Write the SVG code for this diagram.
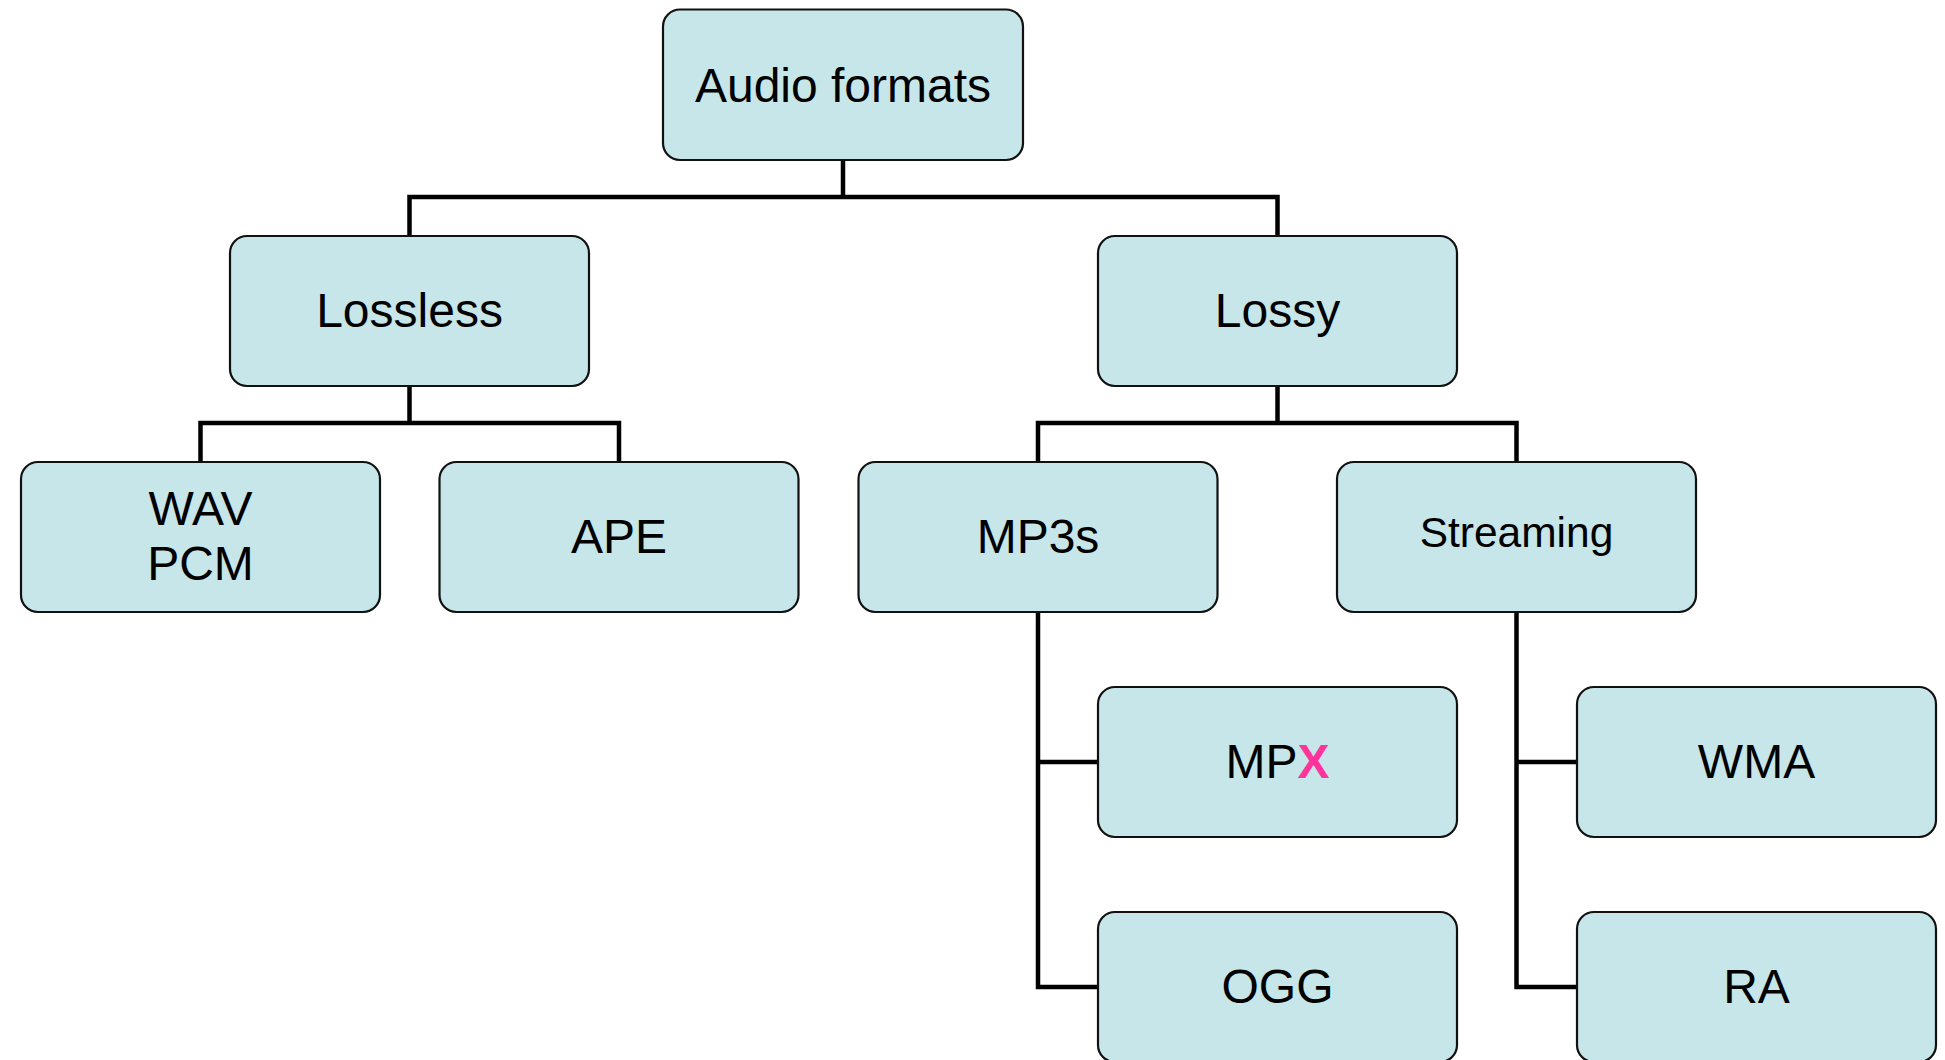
<svg xmlns="http://www.w3.org/2000/svg" width="1945" height="1060" viewBox="0 0 1945 1060">
<style>
.box{fill:#c6e6e9;stroke:#111;stroke-width:2.2}
.t{font-family:"Liberation Sans",Arial,sans-serif;font-size:48px;fill:#000;text-anchor:middle}
.c{fill:none;stroke:#000;stroke-width:4.5;stroke-linejoin:miter;stroke-linecap:square}
</style>
<rect width="1945" height="1060" fill="#fff"/>
<g id="connectors">
<path class="c" d="M843 160 V197 M409.5 197 H1277.5 M409.5 197 V236 M1277.5 197 V236"/>
<path class="c" d="M409.5 386 V423 M200.5 423 H619 M200.5 423 V462 M619 423 V462"/>
<path class="c" d="M1277.5 386 V423 M1038 423 H1516.5 M1038 423 V462 M1516.5 423 V462"/>
<path class="c" d="M1038 612 V987 H1098 M1038 762 H1098"/>
<path class="c" d="M1516.5 612 V987 H1577 M1516.5 762 H1577"/>
</g>
<g id="audio-formats"><rect class="box" x="663" y="9.5" width="360" height="150.5" rx="17"/><text class="t" x="843" y="102">Audio formats</text></g>
<g id="lossless"><rect class="box" x="230" y="236" width="359" height="150" rx="17"/><text class="t" x="409.5" y="327">Lossless</text></g>
<g id="lossy"><rect class="box" x="1098" y="236" width="359" height="150" rx="17"/><text class="t" x="1277.5" y="327">Lossy</text></g>
<g id="wav-pcm"><rect class="box" x="21" y="462" width="359" height="150" rx="17"/><text class="t" x="200.5" y="525">WAV</text><text class="t" x="200.5" y="580">PCM</text></g>
<g id="ape"><rect class="box" x="439.5" y="462" width="359" height="150" rx="17"/><text class="t" x="619" y="553">APE</text></g>
<g id="mp3s"><rect class="box" x="858.5" y="462" width="359" height="150" rx="17"/><text class="t" x="1038" y="553">MP3s</text></g>
<g id="streaming"><rect class="box" x="1337" y="462" width="359" height="150" rx="17"/><text class="t" x="1516.5" y="547" style="font-size:42.5px">Streaming</text></g>
<g id="mpx"><rect class="box" x="1098" y="687" width="359" height="150" rx="17"/><text class="t" x="1277.5" y="778">MP<tspan style="fill:#ff3399;font-weight:bold">X</tspan></text></g>
<g id="wma"><rect class="box" x="1577" y="687" width="359" height="150" rx="17"/><text class="t" x="1756.5" y="778">WMA</text></g>
<g id="ogg"><rect class="box" x="1098" y="912" width="359" height="150" rx="17"/><text class="t" x="1277.5" y="1003">OGG</text></g>
<g id="ra"><rect class="box" x="1577" y="912" width="359" height="150" rx="17"/><text class="t" x="1756.5" y="1003">RA</text></g>
</svg>
